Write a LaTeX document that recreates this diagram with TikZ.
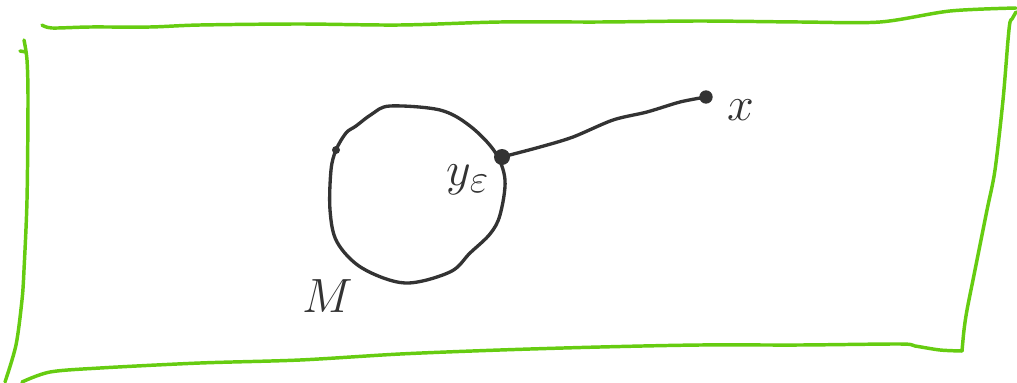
\documentclass[tikz,border=0pt]{standalone}
\usetikzlibrary{calc}
\definecolor{framegreen}{HTML}{66CC11}
\definecolor{ink}{HTML}{333333}
\tikzset{
  frameline/.style={draw=framegreen, line width=2.6pt, line cap=round, line join=round},
  inkline/.style={draw=ink, line width=2.5pt, line cap=round, line join=round},
  dotnode/.style={circle, fill=ink, inner sep=0pt},
  lbl/.style={text=ink, font=\Huge, scale=1.45, inner sep=0pt}
}
\begin{document}
\begin{tikzpicture}[x=0.75pt, y=-0.75pt]
\useasboundingbox (0,0) rectangle (1017,382);
% frame
\draw[frameline] plot[smooth, tension=0.5] coordinates {(42,25) (52,28) (90,27) (150,27) (200,25) (300,24) (400,25) (500,22) (600,22) (700,21) (800,22) (880,22) (950,11) (1016,8)};
\draw[frameline] plot[smooth, tension=0.5] coordinates {(1016,12) (1012,19) (1010,22) (1008,40) (1003,100) (995,170) (987,210) (975,270) (967,310) (964,330) (962,351)};
\draw[frameline] plot[smooth, tension=0.5] coordinates {(962,351) (940,350) (915,346) (900,344) (800,345) (700,345) (600,347) (500,350) (400,354) (300,360) (200,363) (100,368) (50,372) (22,382)};
\draw[frameline] plot[smooth, tension=0.5] coordinates {(24,40) (27,60) (28,100) (27,200) (24,270) (22,300) (16,345) (5,382)};
\draw[frameline] (20,51) -- (26,52);
% circle M
\draw[inkline] plot[smooth cycle, tension=0.55] coordinates {(390,106) (440,110) (470,126) (495,152) (505,180) (500,215) (490,234) (470,253) (450,272) (405,283) (362,268) (337,242) (330,210) (331,170) (336,150) (346,133) (356,126) (372,114)};
% dots
\node[dotnode, minimum size=12pt] (ye) at (502,157) {};
\node[dotnode, minimum size=10pt] (x) at (706,97) {};
\node[dotnode, minimum size=6pt] (p) at (336,150) {};
% connector
\coordinate (c1) at (540,147);
\coordinate (c2) at (573,137);
\coordinate (c3) at (613,120);
\coordinate (c4) at (647,112);
\coordinate (c5) at (680,102);
\draw[inkline] plot[smooth, tension=0.5] coordinates {(ye.center) (c1) (c2) (c3) (c4) (c5) (x.center)};
% labels
\node[lbl] (lye) at (468,180) {$y_\varepsilon$};
\node[lbl] (lx) at (741,110) {$x$};
\node[lbl] (lM) at (328,296) {$M$};
\end{tikzpicture}
\end{document}
